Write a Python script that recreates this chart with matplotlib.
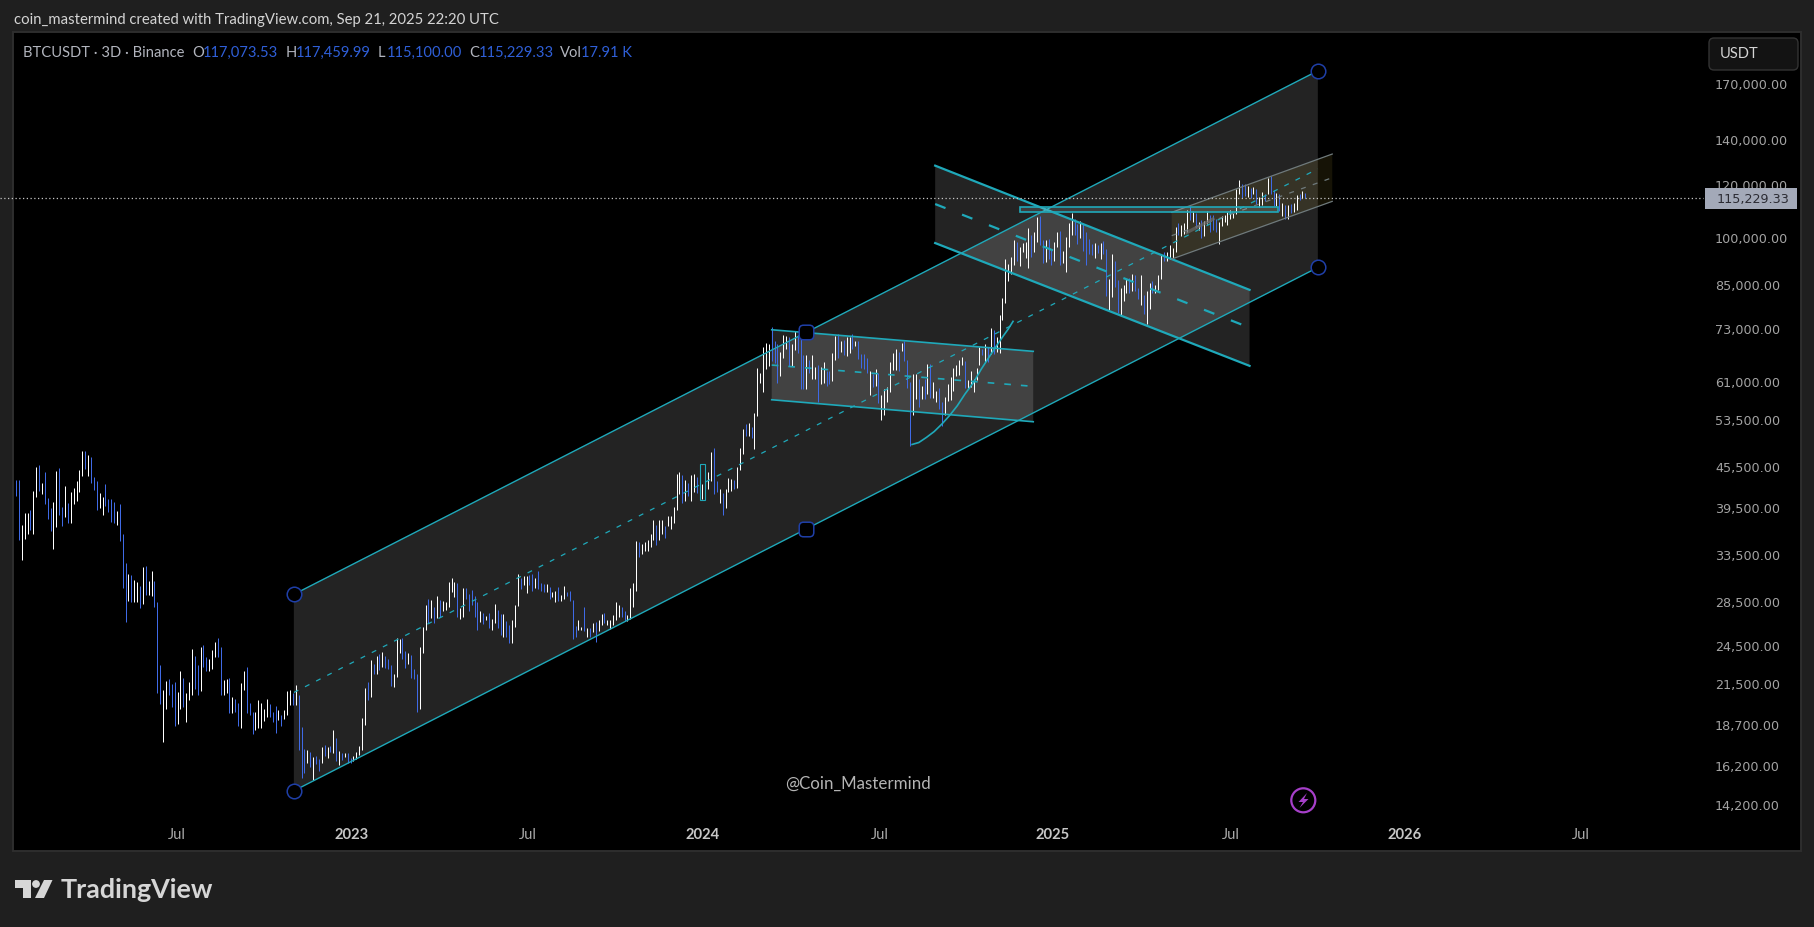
"""BTCUSDT 3D TradingView snapshot with hand drawn channels."""

import matplotlib

matplotlib.use("Agg")

import matplotlib.dates as mdates
import matplotlib.pyplot as plt
import numpy as np
from matplotlib.patches import Circle, FancyBboxPatch, Polygon, Rectangle
from matplotlib.path import Path
from matplotlib.transforms import ScaledTranslation

# bar ranges in thousands of USDT, three days per bar
highs = [
    43.5, 43.5, 37.3, 38.9, 38.8, 39.3, 41.9, 45.5, 45.8, 43.1,
    44.7, 40.9, 39.5, 40.35, 44.9, 45.4, 39.7, 42.6, 40.2, 41.8,
    42.35, 43.4, 45.05, 48.1, 48.1, 47.45, 47.1, 44.0, 43.4, 41.65,
    41.05, 42.95, 40.8, 40.8, 40.35, 39.1, 40.1, 36.15, 32.7, 31.5,
    31.35, 30.85, 30.6, 30.2, 32.25, 32.35, 30.75, 31.85, 30.75, 28.6,
    23.0, 21.1, 21.8, 21.9, 21.55, 21.7, 21.0, 22.55, 22.0, 20.9,
    21.7, 24.3, 23.75, 23.0, 24.5, 24.65, 23.65, 23.5, 24.25, 24.9,
    25.25, 24.5, 21.85, 21.9, 22.0, 20.6, 20.47, 20.2, 21.6, 22.55,
    22.85, 20.2, 19.6, 19.6, 20.4, 20.2, 19.8, 20.47, 20.1, 19.6,
    20.0, 19.7, 19.35, 19.7, 21.05, 21.1, 20.9, 21.45, 20.75, 18.6,
    17.25, 17.15, 17.05, 16.75, 16.8, 16.65, 17.35, 17.45, 17.35, 17.4,
    18.4, 17.9, 17.1, 17.0, 17.0, 17.0, 16.7, 16.8, 17.05, 17.4,
    19.2, 21.25, 21.7, 23.4,
    23.1, 23.75, 23.9, 24.1, 23.75, 23.5, 23.0, 22.3, 25.25, 25.15,
    25.25, 24.15, 24.0, 23.8, 22.7, 22.3, 24.5, 26.25, 28.3, 28.9,
    28.8, 28.15, 29.2, 28.8, 28.7, 28.6, 30.6, 31.05, 30.6, 30.5,
    28.0, 30.0, 30.0, 29.4, 29.8, 29.2, 28.6, 27.7, 27.5, 27.3,
    27.5, 26.95, 28.45, 27.8, 27.4, 27.4, 26.8, 26.45, 26.9, 28.35,
    31.5, 31.05, 31.25, 31.25, 31.35, 31.5, 31.05, 31.8, 30.5, 30.4,
    30.4, 30.1, 29.6, 29.7, 30.1, 29.3, 30.25, 29.6, 29.7, 28.8,
    26.35, 26.9, 26.25, 28.15, 26.15, 26.15, 26.6, 26.65, 26.9, 27.4,
    27.5, 26.9, 26.9, 27.35, 28.6, 28.3, 28.1, 27.75, 27.35, 30.0,
    30.5, 35.3, 35.2, 34.95, 35.2, 35.4, 36.15, 37.9, 37.35, 37.9,
    37.9, 37.2, 38.45, 38.45, 39.65, 44.45, 44.7, 44.3, 43.55, 43.1,
    44.3, 44.45, 44.0, 43.85, 42.95, 45.8, 44.7, 47.9, 48.7, 43.4,
    42.2, 41.65, 42.2, 43.85, 43.7, 43.55, 45.5, 48.6, 51.9,
    52.8, 53.0, 52.25, 54.85, 64.0, 63.05, 68.85, 69.8, 69.5, 73.8,
    70.2, 69.5, 67.7, 71.7, 71.5, 71.2, 69.5, 72.8, 71.7, 71.7,
    66.9, 67.1, 65.85, 67.1, 64.25, 64.65, 64.25, 65.3, 63.4, 63.4,
    67.5, 71.5, 72.05, 70.2, 70.55, 71.2, 71.2, 72.05, 70.2, 70.2,
    67.25, 67.25, 66.3, 63.4, 62.65, 63.8, 63.05, 58.35, 59.55, 60.0,
    65.3, 67.5, 68.4, 67.7, 69.8, 70.2, 65.85, 61.05, 62.65, 62.65,
    61.65, 60.15, 61.65, 65.05, 65.05, 61.05, 59.15, 59.8, 56.95, 57.95,
    60.6, 62.05, 64.0, 64.65, 65.85, 66.55, 65.6, 61.45, 63.4, 61.65,
    64.0, 68.85, 68.4, 69.55, 68.85, 73.5, 73.0, 71.2, 76.9,
    81.5, 93.25, 91.65, 93.9, 99.55, 98.85, 97.2, 98.5, 98.85, 103.75,
    101.2, 102.25, 107.75, 108.1, 99.55, 99.55, 99.9, 96.15, 98.85, 102.25,
    102.6, 95.85, 100.6, 105.55, 109.2, 107.0, 105.2, 106.3, 105.55, 102.25,
    99.9, 98.2, 98.55, 97.85, 98.55, 99.2, 96.5, 87.0, 94.9, 92.6,
    86.7, 84.35, 85.2, 87.0, 87.3, 88.55, 88.2, 84.35, 88.2, 82.5,
    83.5, 85.75, 86.45, 85.2, 88.2, 94.5, 95.55, 95.55, 97.85, 96.85,
    104.0, 105.55,
    104.85, 105.6, 110.6, 111.95, 110.2, 109.3, 105.95, 106.65, 106.3, 110.2,
    108.65, 108.65, 107.0, 105.95, 108.15, 108.5, 109.55, 110.35, 109.35, 118.5,
    122.65, 120.75, 120.75, 119.95, 119.1, 119.5, 118.7, 115.45, 117.45, 116.65,
    123.1, 123.95, 118.3, 117.05, 116.65, 113.0, 112.3, 112.3, 112.7, 113.1,
    116.25, 116.65, 117.85, 117.05,
]
lows = [
    41.2, 35.45, 33.0, 35.5, 36.2, 36.6, 36.2, 41.05, 41.9, 41.5,
    40.1, 38.06, 36.5, 34.3, 37.0, 38.6, 37.2, 38.3, 37.5, 37.5,
    40.1, 40.5, 41.8, 44.1, 45.2, 44.1, 43.1, 42.05, 39.25, 39.5,
    38.6, 39.8, 38.95, 37.65, 37.5, 37.35, 35.3, 30.0, 26.7, 28.7,
    28.6, 28.6, 28.6, 28.0, 28.45, 29.3, 29.3, 29.2, 28.1, 20.9,
    20.1, 17.65, 19.8, 20.75, 19.9, 18.65, 18.8, 19.8, 19.9, 18.9,
    20.4, 20.75, 21.2, 20.75, 21.05, 22.9, 22.55, 22.55, 22.7, 23.65,
    23.65, 20.75, 20.75, 20.9, 19.5, 19.5, 19.6, 18.65, 18.5, 21.1,
    19.5, 19.35, 18.15, 18.4, 18.5, 18.5, 19.0, 19.25, 19.25, 18.9,
    18.2, 19.05, 18.65, 19.1, 19.35, 20.05, 20.05, 20.05, 17.15, 15.6,
    15.85, 16.4, 16.2, 15.5, 16.35, 16.0, 16.4, 16.85, 16.7, 17.05,
    17.0, 16.55, 16.3, 16.6, 16.75, 16.4, 16.4, 16.55, 16.65, 16.9,
    17.15, 18.7, 20.4, 20.6,
    22.3, 22.3, 22.65, 22.9, 22.8, 22.7, 21.4, 21.35, 22.1, 24.0,
    23.5, 22.8, 23.1, 22.0, 21.9, 19.6, 19.8, 23.95, 25.95, 26.6,
    27.05, 26.6, 27.05, 27.2, 27.75, 27.8, 28.15, 29.6, 29.1, 27.15,
    26.95, 27.2, 28.9, 27.75, 28.3, 27.2, 26.0, 26.65, 26.5, 26.85,
    26.15, 26.0, 26.6, 26.15, 25.5, 25.35, 25.35, 24.85, 24.85, 26.25,
    28.2, 29.9, 30.3, 29.5, 30.3, 29.7, 30.0, 29.9, 29.7, 29.6,
    29.6, 28.9, 29.1, 28.6, 28.7, 28.7, 28.9, 29.2, 28.7, 25.2,
    25.35, 26.0, 26.0, 25.85, 25.35, 25.35, 25.75, 24.9, 25.9, 26.45,
    26.6, 26.4, 26.05, 26.4, 26.9, 27.15, 27.2, 26.75, 26.75, 26.95,
    28.1, 29.7, 33.4, 33.8, 34.1, 34.1, 34.55, 35.4, 34.75, 35.4,
    36.15, 35.65, 37.2, 36.75, 37.5, 39.25, 41.5, 40.2, 40.5, 41.2,
    40.5, 41.8, 41.65, 41.2, 40.8, 40.8, 42.2, 43.4, 41.5, 41.8,
    40.2, 38.6, 39.5, 41.8, 41.9, 42.2, 42.35, 45.05, 47.65,
    50.6, 50.75, 50.35, 48.45, 54.3, 60.85, 59.0, 63.8, 64.5, 65.6,
    65.1, 60.85, 62.4, 66.3, 68.4, 64.5, 64.4, 68.2, 67.5, 59.55,
    59.55, 59.55, 63.05, 61.65, 61.65, 56.95, 60.6, 60.85, 60.15, 60.6,
    61.25, 65.85, 66.3, 67.65, 67.1, 66.7, 67.45, 68.4, 69.0, 66.05,
    64.0, 63.8, 63.05, 58.35, 60.0, 60.15, 56.8, 53.5, 54.45, 56.95,
    59.0, 63.6, 63.6, 63.4, 67.95, 65.6, 59.8, 49.0, 54.45, 57.55,
    56.0, 57.55, 57.55, 58.6, 57.75, 57.75, 56.9, 55.6, 52.45, 54.45,
    57.15, 57.35, 59.15, 62.25, 62.45, 64.65, 59.8, 59.8, 60.0, 59.0,
    61.45, 64.65, 67.1, 65.3, 65.3, 67.25, 67.25, 67.7, 67.5,
    75.65, 80.2, 86.45, 88.55, 91.3, 92.6, 90.95, 95.4, 93.55, 90.4,
    93.9, 95.55, 98.85, 97.85, 91.95, 92.3, 93.25, 91.3, 92.6, 97.2,
    91.2, 91.95, 89.05, 97.2, 101.2, 101.2, 98.2, 100.25, 95.85, 91.2,
    94.9, 94.5, 93.55, 95.2, 93.25, 94.9, 82.1, 78.2, 81.75, 84.65,
    77.45, 76.7, 80.7, 83.0, 83.0, 83.5, 83.5, 81.25, 79.55, 77.15,
    74.5, 78.5, 83.0, 83.0, 83.8, 87.05, 92.6, 92.6, 93.25, 93.55,
    95.55, 101.2,
    101.05, 101.65, 102.2, 106.65, 106.0, 103.75, 103.05, 100.25, 100.9, 105.2,
    102.35, 103.05, 102.35, 98.2, 104.45, 105.95, 104.85, 107.0, 107.35, 108.9,
    116.65, 115.05, 115.9, 115.45, 115.05, 116.65, 112.7, 111.6, 112.3, 114.0,
    116.65, 116.65, 112.0, 112.0, 110.1, 108.15, 107.0, 107.0, 109.3, 109.65,
    110.6, 114.4, 115.05, 115.05,
]
directions = (
    "BBWWWBWWBW" "BBBWWBBWBW" "WWWWBWBBBW" "WBBBBWBBBW" "BWWBWBWWBB" "BWWBBBWWBW"
    "WWBBWBBWWW" "BBWWBWBBWW" "BBBWWWWWBB" "BWBWWWBWBB" "BWBWBBWBWB" "WBWBWBBWWW" "WWBW"
    "BWBWBBBWWW" "BBWBBBWWWB" "WBWBWWWWWB" "WWBBBBBWBW" "BWWBBWBBWW" "WBWWBBWBBB"
    "WBWWBWWBBB" "BWWBWBWBWW" "BWWWWWBBWW" "WWBWWWWWBW" "WBWWWWWBWB" "WWBBWWWWBB" "WBWWWBWWW"
    "BWBWWWWWWB" "BBWWWBWWBB" "BWBWWBWWBB" "WWBWBWWBWB" "BBBWBWBWWW" "WWWBWBBBWW"
    "BWBWBWWBBW" "WWWWWWBWWW" "WWBWBWBWW"
    "WWWWWBWWWW" "BWWBBWBBWW" "BWWWWBBWBB" "BBWBWBBWWB" "BWWWBWBBWB" "WWBWWWBWWW" "WB"
    "WWWBWBWBWW" "BBBWWWWWWW" "WBBWBWBWWB" "WBBWBWBWBW" "WBWB"
)
last_bar_date = "2025-09-19"
last_price = 115229.33

price_ticks = [170000, 140000, 120000, 100000, 85000, 73000, 61000, 53500, 45500,
               39500, 33500, 28500, 24500, 21500, 18700, 16200, 14200]
time_ticks = ["2022-07-03", "2023-01-01", "2023-07-03", "2024-01-01", "2024-07-03",
              "2024-12-30", "2025-07-03", "2025-12-31", "2026-07-03"]
time_labels = ["Jul", "2023", "Jul", "2024", "Jul", "2025", "Jul", "2026", "Jul"]

# drawings, (date, price) anchors
main_dates = ["2022-11-02", "2025-10-02"]
main_upper = [29360, 178400]
main_middle = [20940, 127240]
main_lower = [14920, 90580]
main_handle_date = "2024-04-18"
main_handle_prices = [72510, 36780]

down_dates = ["2024-08-30", "2025-07-23"]
down_upper = [128650, 83850]
down_middle = [112700, 73610]
down_lower = [98530, 64530]

flag_dates = ["2024-03-13", "2024-12-10"]
flag_upper = [73080, 67840]
flag_middle = [64710, 60130]
flag_lower = [57420, 53230]

top_dates = ["2025-05-03", "2025-10-17"]
top_upper = [109530, 133900]
top_middle = [101070, 123430]
top_lower = [93240, 113750]
top_stub_dates = ["2025-05-19", "2025-06-15"]
top_stub_prices = [102220, 107030]

level_dates = ["2024-11-26", "2025-08-22"]
level_prices = [109530, 111430]
marker_dates = ["2023-12-29", "2024-01-04"]
marker_prices = [40680, 46010]

arc_dates = ["2024-08-06", "2024-08-13", "2024-08-21", "2024-08-29", "2024-09-06",
             "2024-09-14", "2024-09-22", "2024-09-30", "2024-10-09", "2024-10-17",
             "2024-10-26", "2024-11-02", "2024-11-09", "2024-11-14", "2024-11-19"]
arc_prices = [49220, 49550, 50440, 51460, 52810, 54380, 56240, 58560, 60970, 63830,
              66820, 69210, 71590, 73260, 75230]

CYAN = "#1fa9ba"
BLUE = "#3f6ae6"
HANDLE = "#1f3fa8"
UI_FONT = "Lato"
W, H = 1814, 928


def num(dates):
    return mdates.datestr2num(dates)


def band(ax, dates, upper, lower, color="white", alpha=0.14):
    xs = num(dates)
    ax.fill([xs[0], xs[1], xs[1], xs[0]], [upper[0], upper[1], lower[1], lower[0]],
            color=color, alpha=alpha, lw=0, zorder=1)


def guide(ax, dates, prices, **style):
    style.setdefault("color", CYAN)
    style.setdefault("zorder", 3)
    ax.plot(num(dates), prices, **style)


def rounded_square(corner=0.3):
    """Unit marker path: a square with rounded corners."""
    s, c = 0.5, 0.5 - corner
    verts = [(-c, -s), (c, -s), (s, -s), (s, -c), (s, c), (s, s), (c, s),
             (-c, s), (-s, s), (-s, c), (-s, -c), (-s, -s), (-c, -s)]
    codes = [Path.MOVETO, Path.LINETO, Path.CURVE3, Path.CURVE3, Path.LINETO, Path.CURVE3,
             Path.CURVE3, Path.LINETO, Path.CURVE3, Path.CURVE3, Path.LINETO, Path.CURVE3, Path.CURVE3]
    return Path(verts, codes)


fig = plt.figure(figsize=(W / 100, H / 100), dpi=100, facecolor="#1f1f1f")

# pixel space layers behind and above the price axes
back = fig.add_axes([0, 0, 1, 1], zorder=0)
front = fig.add_axes([0, 0, 1, 1], zorder=2)
for layer in (back, front):
    layer.set_xlim(0, W)
    layer.set_ylim(H, 0)
    layer.axis("off")
front.patch.set_alpha(0)
back.add_patch(Rectangle((13, 33), 1788, 819, fc="black", ec="#2e2e2e", lw=1.4))

ax = fig.add_axes([13 / W, (H - 820) / H, 1690 / W, 787 / H], zorder=1)
ax.patch.set_alpha(0)
for spine in ax.spines.values():
    spine.set_visible(False)
ax.set_yscale("log")
x_ref = num("2023-01-01")
ax.set_xlim(x_ref - 352.1, x_ref + 1405.6)
ax.set_ylim(13540, 203900)

ax.set_yticks(price_ticks)
ax.set_yticklabels([f"{p:,.2f}" for p in price_ticks], fontsize=9.2, color="#a3a3a3",
                   ha="left", family="DejaVu Sans")
ax.minorticks_off()
ax.yaxis.tick_right()
ax.tick_params(axis="y", length=0, pad=8.6)
up_one_px = ScaledTranslation(0, 1.2 / 72, fig.dpi_scale_trans)
for label in ax.get_yticklabels():
    label.set_transform(label.get_transform() + up_one_px)
ax.set_xticks(num(time_ticks))
ax.set_xticklabels(time_labels, family=UI_FONT, fontsize=10.6, color="#a8a8a8")
ax.tick_params(axis="x", length=0, pad=5.5)
for label in ax.get_xticklabels():
    if label.get_text() != "Jul":
        label.set_fontweight("bold")
        label.set_color("#c6c6c6")

# bars
n_bars = len(highs)
bar_x = num(last_bar_date) - 3.0 * np.arange(n_bars - 1, -1, -1)
bar_colors = ["white" if d == "W" else BLUE for d in directions]
ax.vlines(bar_x, np.array(lows) * 1000, np.array(highs) * 1000, colors=bar_colors,
          linewidth=0.72, zorder=2)

# channels
band(ax, main_dates, main_upper, main_lower)
guide(ax, main_dates, main_upper, lw=1.0)
guide(ax, main_dates, main_lower, lw=1.0)
guide(ax, main_dates, main_middle, lw=0.9, dashes=(4, 6))

band(ax, down_dates, down_upper, down_lower)
guide(ax, down_dates, down_upper, lw=1.6)
guide(ax, down_dates, down_lower, lw=1.6)
guide(ax, down_dates, down_middle, lw=1.6, dashes=(5, 8))

band(ax, flag_dates, flag_upper, flag_lower)
guide(ax, flag_dates, flag_upper, lw=1.2)
guide(ax, flag_dates, flag_lower, lw=1.2)
guide(ax, flag_dates, flag_middle, lw=1.2, dashes=(4, 6))

band(ax, top_dates, top_upper, top_lower, color="#ffd54a", alpha=0.09)
guide(ax, top_dates, top_upper, lw=0.9, color="#6f7a7c")
guide(ax, top_dates, top_lower, lw=0.9, color="#6f7a7c")
guide(ax, top_dates, top_middle, lw=0.9, color="#6f7a7c", dashes=(4, 6))
guide(ax, top_stub_dates, top_stub_prices, lw=2.4, color="#6a6a6a", alpha=0.7)

# horizontal level box and the small outline on the early 2024 bar
xs = num(level_dates)
ax.add_patch(Rectangle((xs[0], level_prices[0]), xs[1] - xs[0], level_prices[1] - level_prices[0],
                       fc=(1, 1, 1, 0.12), ec=CYAN, lw=1.2, zorder=3))
xs = num(marker_dates)
ax.add_patch(Rectangle((xs[0], marker_prices[0]), xs[1] - xs[0], marker_prices[1] - marker_prices[0],
                       fc="none", ec=CYAN, lw=0.8, zorder=3))

guide(ax, arc_dates, arc_prices, lw=1.2, solid_joinstyle="round")

# anchors
ends = [(main_dates[i], main_upper[i]) for i in (0, 1)] + [(main_dates[i], main_lower[i]) for i in (0, 1)]
ax.plot(num([e[0] for e in ends]), [e[1] for e in ends], ls="none", marker="o", ms=10.5,
        mfc="black", mec=HANDLE, mew=1.1, zorder=4)
ax.plot(num([main_handle_date] * 2), main_handle_prices, ls="none", marker=rounded_square(),
        ms=10.5, mfc="black", mec=HANDLE, mew=1.1, zorder=4)

# last price line
ax.plot([-13 / 1690, 1], [last_price, last_price], transform=ax.get_yaxis_transform(),
        clip_on=False, color="#c8c8c8", lw=0.9, ls=(0, (1, 2)), zorder=5)

# header and legend
front.text(14, 20, "coin_mastermind created with TradingView.com, Sep 21, 2025 22:20 UTC",
           family=UI_FONT, fontsize=10.7, color="#d4d4d4", va="center")
legend_gray = [(23, "BTCUSDT · 3D · Binance"), (192, "O"), (286, "H"), (378, "L"), (469, "C"), (560, "Vol")]
legend_blue = [(203, "117,073.53"), (296, "117,459.99"), (387, "115,100.00"), (479, "115,229.33"), (581, "17.91 K")]
for x, text in legend_gray:
    front.text(x, 53, text, family=UI_FONT, fontsize=10.6, color="#b2b5be", va="center")
for x, text in legend_blue:
    front.text(x, 53, text, family=UI_FONT, fontsize=10.6, color="#2f5fd8", va="center")

# price scale widgets
front.add_patch(FancyBboxPatch((1712, 42), 83, 26, boxstyle="round,pad=3,rounding_size=5",
                               fc="#131313", ec="#333333", lw=1))
front.text(1720, 54.5, "USDT", family=UI_FONT, fontsize=10.6, color="#d4d4d4", va="center")
front.add_patch(Rectangle((1705, 189), 92, 21, fc="#a3a9b8", ec="none"))
front.text(1717, 199.5, f"{last_price:,.2f}", fontsize=9.2, color="#2b2b33", va="center",
           family="DejaVu Sans")

front.text(858, 784, "@Coin_Mastermind", family=UI_FONT, fontsize=12.2, color="#b4b4b4",
           ha="center", va="center")

# lightning badge
front.add_patch(Circle((1303.3, 801.3), 12, fc="none", ec="#a63fc9", lw=1.6))
front.add_patch(Polygon([(1307, 794), (1298.5, 803), (1303, 803), (1299.5, 809),
                         (1308.5, 800), (1304, 800)], fc="#a63fc9", ec="none"))

# logo
logo = "#d6d6d6"
front.add_patch(Polygon([(15, 881), (31, 881), (31, 899), (23, 899), (23, 889), (15, 889)], fc=logo, ec="none"))
front.add_patch(Circle((36, 885), 3.9, fc=logo, ec="none"))
front.add_patch(Polygon([(44, 881), (52.5, 881), (44, 899), (35, 899)], fc=logo, ec="none"))
front.text(61, 890, "TradingView", family=UI_FONT, fontsize=19.4, fontweight="bold", color=logo, va="center")

fig.savefig("out.png", dpi=100, facecolor=fig.get_facecolor())
plt.close(fig)
